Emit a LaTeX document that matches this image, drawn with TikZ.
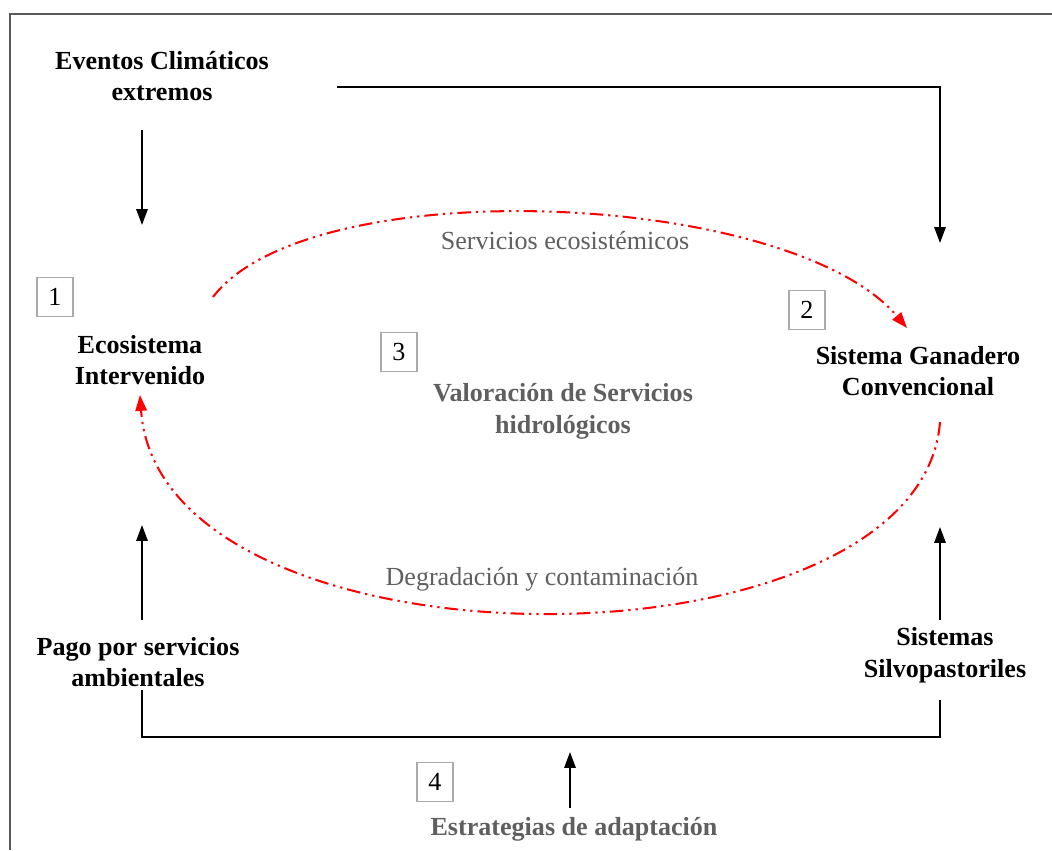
\documentclass[tikz,border=0pt]{standalone}
\usepackage{fontspec}
\setmainfont{Liberation Serif}
\usetikzlibrary{arrows.meta,positioning}
\definecolor{labelgray}{RGB}{95,95,95}
\definecolor{boxgray}{RGB}{170,170,170}
\definecolor{framegray}{RGB}{90,90,90}
\definecolor{flowred}{RGB}{255,0,0}

\begin{document}
\begin{tikzpicture}[
		x=0.155mm, y=-0.155mm,
		actor/.style={align=center, font=\fontsize{11.5}{14}\selectfont\bfseries, text=black},
		theme/.style={align=center, font=\fontsize{11.5}{14}\selectfont\bfseries, text=labelgray},
		flowtext/.style={font=\fontsize{11.5}{14}\selectfont, text=labelgray},
		numbox/.style={draw=boxgray, line width=0.7pt, minimum width=5.6mm, minimum height=6mm, inner sep=0pt, font=\fontsize{11.5}{14}\selectfont},
		link/.style={line width=0.8pt, -{Triangle[length=7pt,width=5pt]}},
		plain/.style={line width=0.6pt},
		flow/.style={flowred, line width=0.9pt, dash pattern=on 6pt off 2.2pt on 1pt off 2.2pt on 1pt off 2.2pt, -{Triangle[length=7pt,width=5pt]}}
		]
	
		\useasboundingbox (0,0) rectangle (1052,850);
		\draw[framegray, line width=0.6pt] (10,850) -- (10,14) -- (1052,14);
	
		% --- Acteurs ---
		\node[actor] (eventos) at (162,76) {Eventos Climáticos\\extremos};
		\node[actor] (ecosistema) at (140,360) {Ecosistema\\Intervenido};
		\node[actor] (ganadero) at (918,371) {Sistema Ganadero\\Convencional};
		\node[theme] (valoracion) at (563,411) {Valoración de Servicios\\hidrológicos};
		\node[actor] (pago) at (138,662) {Pago por servicios\\ambientales};
		\node[actor] (silvo) at (945,655) {Sistemas\\Silvopastoriles};
		\node[theme] (estrategias) at (574,829) {Estrategias de adaptación};
	
		\node[flowtext] (servicios) at (565,241) {Servicios ecosistémicos};
		\node[flowtext] (degradacion) at (542,579) {Degradación y contaminación};
	
		\node[numbox] (n1) at (55,297) {1};
		\node[numbox] (n2) at (807,310) {2};
		\node[numbox] (n3) at (399,352) {3};
		\node[numbox] (n4) at (435,782) {4};
	
		% --- Extrémités ---
		\coordinate (ev-a) at (142,130);
		\coordinate (ev-b) at (142,225);
		\coordinate (ev-r) at (337,87);
		\coordinate (gan-in) at (940,243);
		\coordinate (sv-a) at (213,297);
		\coordinate (sv-b) at (907,328);
		\coordinate (dg-a) at (940,422);
		\coordinate (dg-b) at (140,395);
		\coordinate (pg-a) at (142,620);
		\coordinate (pg-b) at (142,525);
		\coordinate (sl-a) at (940,620);
		\coordinate (sl-b) at (940,527);
		\coordinate (pg-c) at (142,690);
		\coordinate (pg-d) at (142,737);
		\coordinate (sl-c) at (940,700);
		\coordinate (sl-d) at (940,737);
		\coordinate (es-a) at (570,808);
		\coordinate (es-b) at (570,752);
	
		% --- Liens ---
		\draw[link] (ev-a) -- (ev-b);
		\draw[link] (ev-r) -| (gan-in);
		\draw[flow] (sv-a) .. controls (310,170) and (790,190) .. (sv-b);
		\draw[flow] (dg-a) .. controls (920,680) and (160,680) .. (dg-b);
		\draw[link] (pg-a) -- (pg-b);
		\draw[link] (sl-a) -- (sl-b);
		\draw[plain] (pg-c) -- (pg-d) -- (sl-d) -- (sl-c);
		\draw[link] (es-a) -- (es-b);
	
	\end{tikzpicture}
\end{document}
